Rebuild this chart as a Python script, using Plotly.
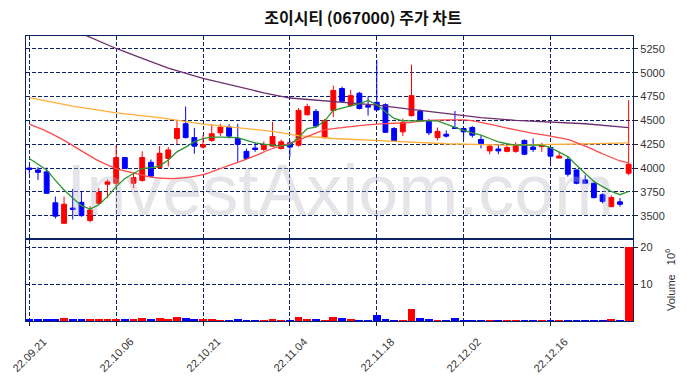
import plotly.graph_objects as go

# ---- data -------------------------------------------------------------
dates = [
    "22.09.21", "22.09.22", "22.09.23", "22.09.26", "22.09.27", "22.09.28", "22.09.29", "22.09.30",
    "22.10.04", "22.10.05", "22.10.06", "22.10.07", "22.10.11", "22.10.12", "22.10.13", "22.10.14",
    "22.10.17", "22.10.18", "22.10.19", "22.10.20", "22.10.21", "22.10.24", "22.10.25", "22.10.26",
    "22.10.27", "22.10.28", "22.10.31", "22.11.01", "22.11.02", "22.11.03", "22.11.04", "22.11.07",
    "22.11.08", "22.11.09", "22.11.10", "22.11.11", "22.11.14", "22.11.15", "22.11.16", "22.11.17",
    "22.11.18", "22.11.21", "22.11.22", "22.11.23", "22.11.24", "22.11.25", "22.11.28", "22.11.29",
    "22.11.30", "22.12.01", "22.12.02", "22.12.05", "22.12.06", "22.12.07", "22.12.08", "22.12.09",
    "22.12.12", "22.12.13", "22.12.14", "22.12.15", "22.12.16", "22.12.19", "22.12.20", "22.12.21",
    "22.12.22", "22.12.23", "22.12.26", "22.12.27", "22.12.28", "22.12.29",
]

open_ = [4000, 3980, 3960, 3635, 3420, 3580, 3640, 3450, 3630, 3830,
         3840, 4110, 3840, 3870, 4060, 4005, 4100, 4310, 4465, 4320,
         4220, 4290, 4370, 4430, 4310, 4175, 4210, 4195, 4230, 4205,
         4265, 4240, 4560, 4595, 4320, 4605, 4835, 4655, 4785, 4655,
         4690, 4665, 4415, 4380, 4550, 4595, 4495, 4320, 4355, 4425,
         4415, 4425, 4300, 4180, 4200, 4175, 4175, 4290, 4220, 4225,
         4215, 4105, 4090, 3980, 3875, 3840, 3720, 3595, 3645, 3945]
high = [4030, 4010, 4005, 3700, 3700, 3780, 3760, 3600, 3790, 3880,
        4240, 4110, 3945, 4175, 4090, 4230, 4220, 4505, 4645, 4420,
        4345, 4460, 4465, 4460, 4465, 4205, 4265, 4280, 4485, 4300,
        4290, 4630, 4675, 4620, 4515, 4865, 4855, 4820, 4800, 4750,
        5135, 4680, 4430, 4520, 5085, 4615, 4515, 4425, 4395, 4600,
        4425, 4440, 4345, 4250, 4250, 4240, 4270, 4300, 4310, 4265,
        4220, 4170, 4120, 3985, 3925, 3850, 3735, 3715, 3685, 4715]
low = [3940, 3875, 3730, 3470, 3415, 3460, 3490, 3430, 3615, 3685,
       3810, 3990, 3790, 3855, 3910, 3995, 4015, 4250, 4310, 4150,
       4205, 4275, 4335, 4310, 4065, 4085, 4170, 4180, 4225, 4195,
       4120, 4225, 4550, 4430, 4310, 4535, 4690, 4640, 4615, 4550,
       4600, 4370, 4275, 4335, 4540, 4490, 4345, 4290, 4320, 4410,
       4310, 4320, 4205, 4145, 4145, 4165, 4160, 4135, 4170, 4170,
       4065, 4105, 3910, 3830, 3835, 3680, 3630, 3590, 3595, 3925]
close = [3985, 3955, 3735, 3495, 3620, 3565, 3500, 3560, 3745, 3855,
         4110, 3995, 3900, 4110, 3915, 4155, 4190, 4415, 4320, 4230,
         4245, 4360, 4430, 4335, 4250, 4100, 4195, 4240, 4330, 4275,
         4220, 4605, 4645, 4440, 4500, 4815, 4700, 4760, 4625, 4640,
         4610, 4375, 4285, 4480, 4760, 4495, 4370, 4385, 4335, 4415,
         4380, 4345, 4250, 4230, 4180, 4215, 4240, 4145, 4195, 4240,
         4125, 4125, 3935, 3840, 3840, 3690, 3650, 3690, 3620, 4040]

# volume in millions of shares
volume = [0.36, 0.55, 0.30, 0.45, 0.73, 0.45, 0.45, 0.45, 0.45, 0.64,
          0.64, 0.36, 0.55, 0.73, 0.45, 0.73, 0.45, 1.20, 0.73, 0.27,
          0.45, 0.45, 0.20, 0.20, 0.45, 0.20, 0.20, 0.20, 0.45, 0.20,
          0.20, 1.00, 0.45, 0.45, 0.20, 1.00, 0.73, 0.45, 0.20, 0.20,
          1.55, 0.45, 0.20, 0.20, 3.30, 0.73, 0.45, 0.20, 0.20, 0.73,
          0.20, 0.20, 0.20, 0.20, 0.20, 0.20, 0.20, 0.20, 0.20, 0.20,
          0.20, 0.20, 0.20, 0.20, 0.20, 0.20, 0.20, 0.30, 0.20, 20.0]

# moving averages
ma5 = [4100, 4040, 3980, 3870, 3770, 3685, 3605, 3570, 3615, 3700,
       3805, 3890, 3945, 3995, 4005, 4020, 4085, 4170, 4220, 4275,
       4310, 4325, 4325, 4325, 4320, 4290, 4265, 4250, 4240, 4230,
       4245, 4320, 4415, 4430, 4495, 4605, 4630, 4655, 4675, 4710,
       4665, 4590, 4520, 4495, 4495, 4500, 4500, 4495, 4460, 4425,
       4395, 4370, 4345, 4310, 4275, 4255, 4240, 4240, 4240, 4240,
       4215, 4170, 4120, 4030, 3945, 3860, 3805, 3755, 3720, 3755]

ma20_idx = [0, 2, 4, 6, 8, 10, 12, 14, 16, 18, 20, 22, 24, 26, 28, 30, 32, 34, 36,
            38, 40, 42, 44, 46, 48, 50, 52, 54, 56, 58, 60, 62, 64, 66, 68, 69]
ma20_val = [4460, 4385, 4290, 4180, 4075, 3995, 3950, 3905, 3890, 3900, 3930, 3995,
            4060, 4130, 4205, 4260, 4330, 4400, 4425, 4445, 4460, 4470, 4480, 4500,
            4505, 4505, 4480, 4440, 4400, 4365, 4335, 4300, 4230, 4150, 4075, 4055]

ma60_idx = [0, 5, 10, 15, 20, 25, 28, 31, 35, 41, 48, 55, 60, 65, 69]
ma60_val = [4740, 4650, 4580, 4530, 4460, 4410, 4385, 4340, 4310, 4285, 4255, 4240,
            4245, 4255, 4265]

ma120_idx = [4, 7, 10, 13, 16, 20, 24, 27, 30, 35, 40, 44, 48, 52, 56, 60, 64, 69]
ma120_val = [5490, 5375, 5255, 5150, 5050, 4940, 4850, 4790, 4735, 4700, 4660, 4615,
             4570, 4530, 4500, 4485, 4465, 4425]

price_ticks = [3500, 3750, 4000, 4250, 4500, 4750, 5000, 5250]
volume_ticks = [10, 20]
tick_pos = list(range(0, len(dates), 10))
tick_dates = [dates[i] for i in tick_pos]

title_text = "조이시티 (067000) 주가 차트"
watermark = "InvestAxiom.com"

# ---- styling ----------------------------------------------------------
UP = "#ff0000"
DOWN = "#0000ff"
NAVY = "#0b2266"
FONT = "Liberation Sans"

# the page body adds an 8px offset, so the figure is sized to fit the window
W, H = 678, 370
PLOT_H = 285  # plot-area height in px

xs = list(range(len(dates)))
vol_colors = [UP if c >= o else DOWN for o, c in zip(open_, close)]

fig = go.Figure()

# watermark (drawn first so it sits beneath the candles)
fig.add_trace(go.Scatter(
    x=[35.8], y=[3700], mode="text", text=[watermark],
    textfont=dict(family=FONT, size=72, color="rgba(180,180,195,0.36)"),
    textposition="middle center", hoverinfo="skip", showlegend=False,
    xaxis="x", yaxis="y", cliponaxis=False))

fig.add_trace(go.Scatter(x=ma120_idx, y=ma120_val, mode="lines",
                         line=dict(color="#6e2d6e", width=1.3), xaxis="x", yaxis="y",
                         showlegend=False))
fig.add_trace(go.Scatter(x=ma60_idx, y=ma60_val, mode="lines",
                         line=dict(color="#ffae3a", width=1.3), xaxis="x", yaxis="y",
                         showlegend=False))
fig.add_trace(go.Scatter(x=ma20_idx, y=ma20_val, mode="lines",
                         line=dict(color="#ff4a4a", width=1.3, shape="spline", smoothing=0.6),
                         xaxis="x", yaxis="y", showlegend=False))
fig.add_trace(go.Scatter(x=xs, y=ma5, mode="lines",
                         line=dict(color="#2e962e", width=1.3), xaxis="x", yaxis="y",
                         showlegend=False))

fig.add_trace(go.Candlestick(
    x=xs, open=open_, high=high, low=low, close=close,
    increasing=dict(line=dict(color=UP, width=1), fillcolor=UP),
    decreasing=dict(line=dict(color=DOWN, width=1), fillcolor=DOWN),
    whiskerwidth=0, xaxis="x", yaxis="y", showlegend=False))

fig.add_trace(go.Bar(x=xs, y=volume, marker=dict(color=vol_colors, line=dict(width=0)),
                     width=0.9, xaxis="x2", yaxis="y2", showlegend=False))

grid = dict(showgrid=True, gridcolor=NAVY, griddash="4px,2px", gridwidth=1,
            showline=True, linecolor=NAVY, linewidth=1.2, mirror=True, zeroline=False,
            automargin=False)
tickfont = dict(family=FONT, size=11, color="#333333")

# rotated date labels, centred under each tick (as in the original)
date_labels = [dict(text=t, x=p, xref="x2", y=-13 / PLOT_H, yref="paper",
                    xanchor="center", yanchor="top", textangle=-45, showarrow=False,
                    borderpad=0, font=dict(family=FONT, size=11, color="#333333"))
               for p, t in zip(tick_pos, tick_dates)]

vol_label = dict(text="Volume   10<sup>6</sup>", textangle=-90, xref="paper", yref="paper",
                 x=(670 - 26) / 607, y=(321 - 280) / PLOT_H, xanchor="center",
                 yanchor="middle", showarrow=False,
                 font=dict(family=FONT, size=11, color="#333333"))

fig.update_layout(
    width=W, height=H,
    margin=dict(l=18, r=53, t=28, b=57),
    paper_bgcolor="white", plot_bgcolor="white",
    showlegend=False,
    bargap=0, boxgap=0.2,
    title=dict(text=title_text, x=355 / W, xref="container", xanchor="center",
               y=1 - 10 / H, yref="container", yanchor="middle",
               font=dict(family="Noto Sans CJK KR", size=16, color="#111111", weight="bold")),
    xaxis=dict(domain=[0, 1], anchor="y", range=[-0.38, 69.5],
               tickvals=tick_pos, showticklabels=False, ticks="",
               rangeslider=dict(visible=False), **grid),
    xaxis2=dict(domain=[0, 1], anchor="y2", range=[-0.38, 69.5],
                matches="x", tickvals=tick_pos, showticklabels=False,
                ticks="outside", ticklen=4, tickcolor="#222222", **grid),
    yaxis=dict(domain=[0.29, 1], anchor="x", side="right", range=[3262, 5386],
               tickvals=price_ticks, ticks="outside", ticklen=4, tickcolor="#222222",
               tickfont=tickfont, **grid),
    yaxis2=dict(domain=[0, 0.284], anchor="x2", side="right", range=[0, 22],
                tickvals=volume_ticks, ticks="outside", ticklen=4, tickcolor="#222222",
                tickfont=tickfont, **grid),
    annotations=date_labels + [vol_label],
)

fig.write_html("out.html")
